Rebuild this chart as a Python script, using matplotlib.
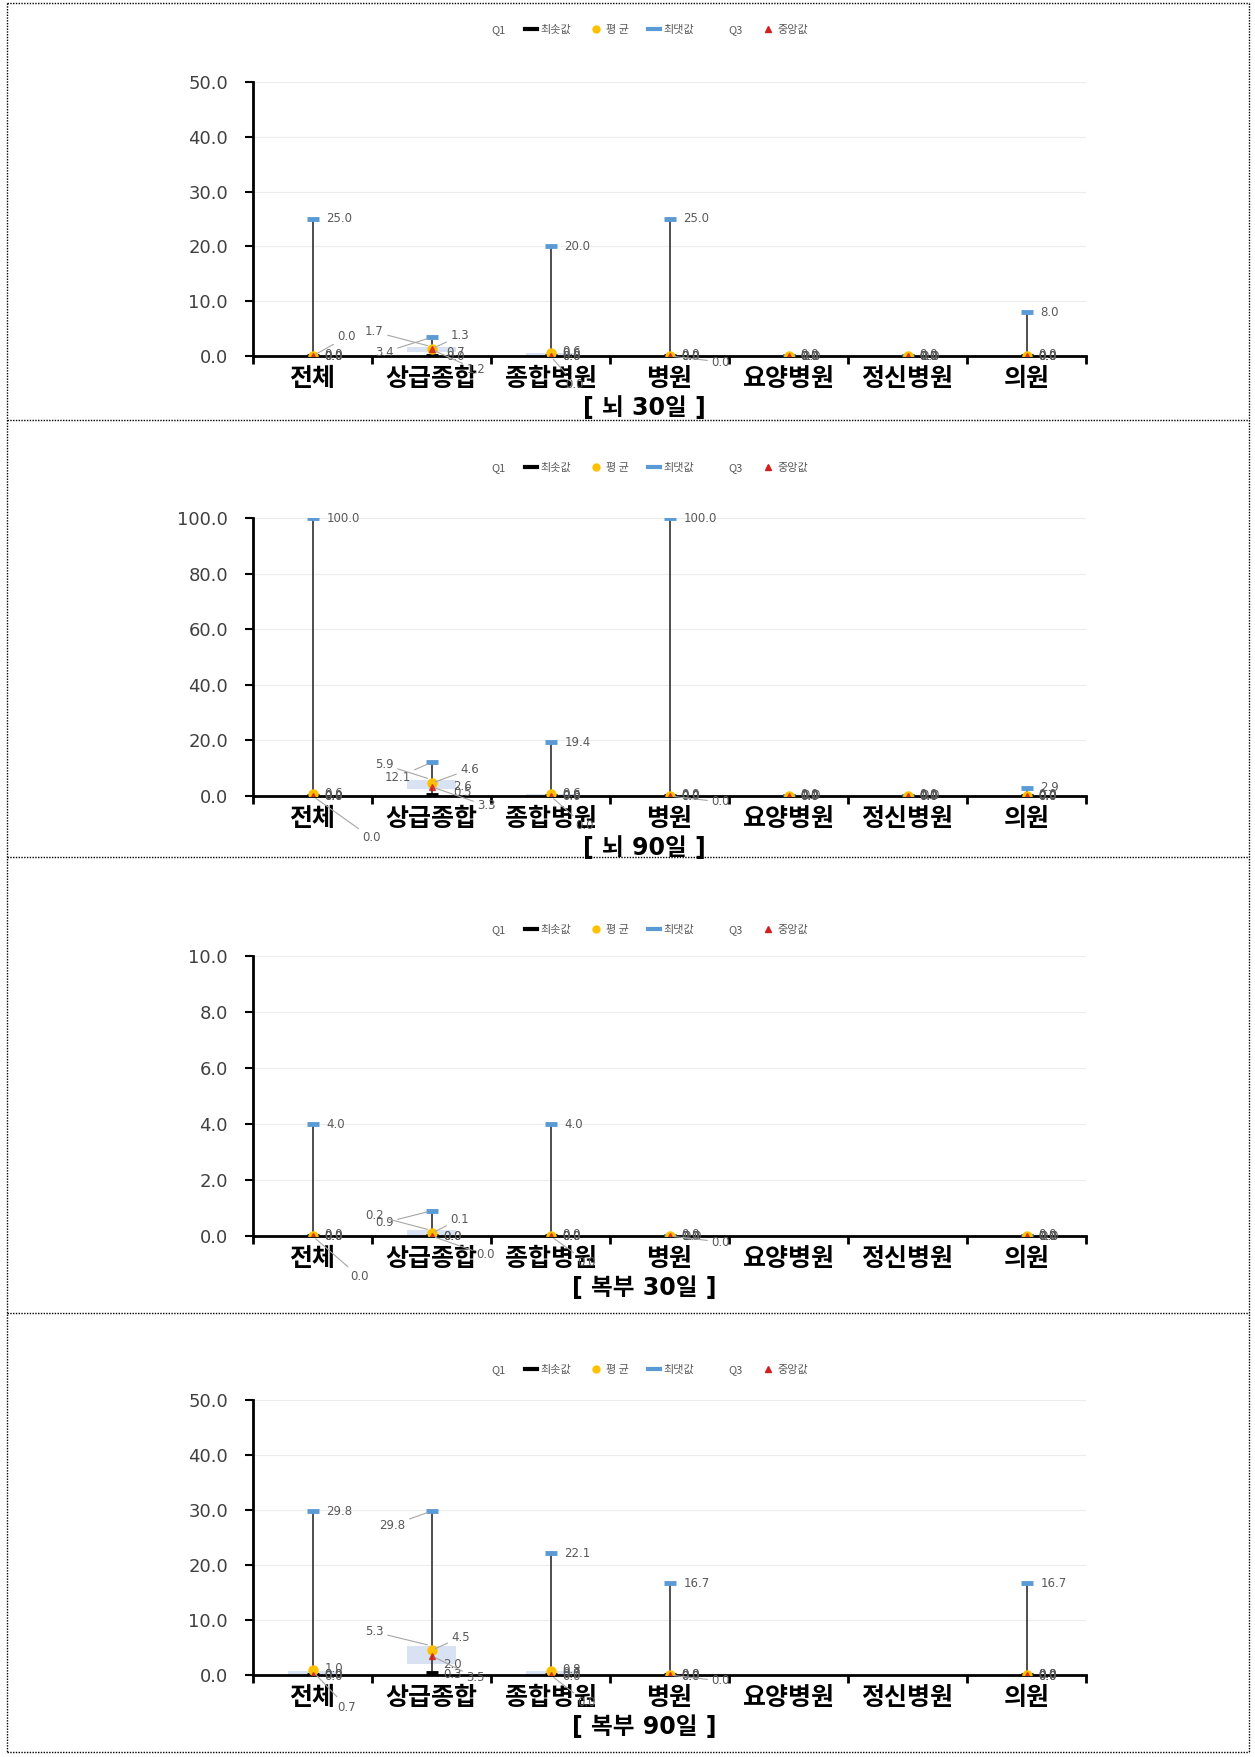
import numpy as np
import matplotlib
matplotlib.use('Agg')
import matplotlib.pyplot as plt
from matplotlib.lines import Line2D

plt.rcParams['font.family'] = ['DejaVu Sans', 'Noto Sans CJK KR']

nan = np.nan
cats = ['전체', '상급종합', '종합병원', '병원', '요양병원', '정신병원', '의원']

# 뇌 30일
b30_q1 = [0.0, 0.7, 0.0, 0.0, 0.0, 0.0, 0.0]
b30_min = [0.0, 0.0, 0.0, 0.0, 0.0, 0.0, 0.0]
b30_mean = [0.0, 1.3, 0.6, 0.0, 0.0, 0.0, 0.0]
b30_max = [25.0, 3.4, 20.0, 25.0, 0.0, 0.0, 8.0]
b30_q3 = [0.0, 1.7, 0.6, 0.0, 0.0, 0.0, 0.0]
b30_med = [0.0, 1.2, 0.0, 0.0, 0.0, 0.0, 0.0]

# 뇌 90일
b90_q1 = [0.0, 2.6, 0.0, 0.0, 0.0, 0.0, 0.0]
b90_min = [0.0, 0.5, 0.0, 0.0, 0.0, 0.0, 0.0]
b90_mean = [0.6, 4.6, 0.6, 0.0, 0.0, 0.0, 0.0]
b90_max = [100.0, 12.1, 19.4, 100.0, 0.0, 0.0, 2.9]
b90_q3 = [0.0, 5.9, 0.6, 0.0, 0.0, 0.0, 0.0]
b90_med = [0.0, 3.3, 0.0, 0.0, 0.0, 0.0, 0.0]

# 복부 30일
a30_q1 = [0.0, 0.0, 0.0, 0.0, nan, nan, 0.0]
a30_min = [0.0, 0.0, 0.0, 0.0, nan, nan, 0.0]
a30_mean = [0.0, 0.1, 0.0, 0.0, nan, nan, 0.0]
a30_max = [4.0, 0.9, 4.0, 0.0, nan, nan, 0.0]
a30_q3 = [0.0, 0.2, 0.0, 0.0, nan, nan, 0.0]
a30_med = [0.0, 0.0, 0.0, 0.0, nan, nan, 0.0]

# 복부 90일
a90_q1 = [0.0, 2.0, 0.0, 0.0, nan, nan, 0.0]
a90_min = [0.0, 0.3, 0.0, 0.0, nan, nan, 0.0]
a90_mean = [1.0, 4.5, 0.8, 0.0, nan, nan, 0.0]
a90_max = [29.8, 29.8, 22.1, 16.7, nan, nan, 16.7]
a90_q3 = [0.7, 5.3, 0.7, 0.0, nan, nan, 0.0]
a90_med = [0.0, 3.5, 0.0, 0.0, nan, nan, 0.0]

titles = ['[ 뇌 30일 ]', '[ 뇌 90일 ]', '[ 복부 30일 ]', '[ 복부 90일 ]']
ymaxs = [50, 100, 10, 50]
ysteps = [10, 20, 2, 10]

# label placement (pixels: dx right, dy down, alignment, leader line)
offs1 = {(0, 'med'): (25, -19, 'left', True), (1, 'mx'): (-38, 15, 'right', True),
         (1, 'q3'): (-48, -15, 'right', True), (1, 'mean'): (19, -13, 'left', True),
         (1, 'q1'): (15, 0, 'left', False), (1, 'mn'): (15, 1, 'left', False),
         (1, 'med'): (35, 20, 'left', True), (2, 'med'): (15, 28, 'left', True),
         (3, 'med'): (42, 6, 'left', True)}
offs2 = {(0, 'med'): (50, 42, 'left', True), (1, 'mx'): (-21, 15, 'right', True),
         (1, 'q3'): (-38, -15, 'right', True), (1, 'mean'): (29, -14, 'left', True),
         (1, 'q1'): (22, -2, 'left', False), (1, 'mn'): (22, -2, 'left', False),
         (1, 'med'): (46, 19, 'left', True), (2, 'med'): (25, 30, 'left', True),
         (3, 'med'): (42, 6, 'left', True)}
offs3 = {(0, 'med'): (38, 41, 'left', True), (1, 'mx'): (-38, 12, 'right', True),
         (1, 'q3'): (-48, -15, 'right', True), (1, 'mean'): (19, -14, 'left', True),
         (1, 'med'): (45, 19, 'left', True), (2, 'med'): (27, 26, 'left', True),
         (3, 'med'): (42, 6, 'left', True)}
offs4 = {(0, 'q3'): (25, 36, 'left', True), (1, 'mx'): (-26, 14, 'right', True),
         (1, 'q3'): (-48, -14, 'right', True), (1, 'mean'): (20, -13, 'left', True),
         (1, 'med'): (35, 22, 'left', True), (2, 'med'): (27, 28, 'left', True),
         (3, 'med'): (42, 6, 'left', True)}

panels = [
    (b30_q1, b30_min, b30_mean, b30_max, b30_q3, b30_med, offs1),
    (b90_q1, b90_min, b90_mean, b90_max, b90_q3, b90_med, offs2),
    (a30_q1, a30_min, a30_mean, a30_max, a30_q3, a30_med, offs3),
    (a90_q1, a90_min, a90_mean, a90_max, a90_q3, a90_med, offs4),
]

W, H = 1255, 1757
axis_bottom = [356, 796, 1236, 1675]
axis_top = [82, 518, 956, 1400]
legend_y = [30, 468, 930, 1370]
left_px, right_px = 253, 1086

fig = plt.figure(figsize=(W / 100, H / 100), dpi=100)

kr = ['Noto Sans CJK KR', 'DejaVu Sans']
lab_col = '#595959'
blue = '#5b9bd5'
yellow = '#ffc000'
red = '#d02020'

handles = [Line2D([], [], linestyle='none'),
           Line2D([], [], color='black', lw=3),
           Line2D([], [], linestyle='none', marker='o', color=yellow, ms=5),
           Line2D([], [], color=blue, lw=3),
           Line2D([], [], linestyle='none'),
           Line2D([], [], linestyle='none', marker='^', color=red, ms=5)]
hlabels = ['Q1', '최솟값', '평 균', '최댓값', 'Q3', '중앙값']

base_dy = {'q1': 0, 'mn': 1, 'mean': -1, 'mx': 0, 'q3': 1, 'med': 0}

for p, (q1, mn, mean, mx, q3, med, offs) in enumerate(panels):
    b = 1 - axis_bottom[p] / H
    h = (axis_bottom[p] - axis_top[p]) / H
    ax = fig.add_axes([left_px / W, b, (right_px - left_px) / W, h])
    x = np.arange(len(cats))
    q1a, mna, meana, mxa, q3a, meda = (np.array(v, dtype=float) for v in (q1, mn, mean, mx, q3, med))

    ax.bar(x, q3a - q1a, bottom=q1a, width=0.42, color='#d9e2f3', zorder=2)
    ax.vlines(x, mna, mxa, color='#404040', lw=1.3, zorder=3)
    ax.plot(x, mna, linestyle='none', marker='_', ms=9, mew=3.5, color='black', zorder=4)
    ax.plot(x, mxa, linestyle='none', marker='_', ms=9, mew=3.5, color=blue, zorder=4)
    ax.plot(x, meana, linestyle='none', marker='o', ms=6.5, color=yellow, zorder=5)
    ax.plot(x, meda, linestyle='none', marker='^', ms=5, color=red, alpha=0.8, zorder=6)

    series = [('q1', q1a), ('mn', mna), ('mean', meana), ('mx', mxa), ('q3', q3a), ('med', meda)]
    for key, arr in series:
        for i, v in enumerate(arr):
            if np.isnan(v):
                continue
            dx, dy, ha, lead = offs.get((i, key), (14 if key == 'mx' else 12, base_dy[key], 'left', False))
            kw = {}
            if lead:
                kw['arrowprops'] = dict(arrowstyle='-', color='#a6a6a6', lw=0.8, shrinkA=1, shrinkB=3)
            ax.annotate(f'{v:.1f}', xy=(i, v), xytext=(dx, -dy), textcoords='offset pixels',
                        ha=ha, va='center', fontsize=8.5, color=lab_col, zorder=7, **kw)

    ax.set_xlim(-0.5, len(cats) - 0.5)
    ax.set_ylim(0, ymaxs[p])
    yt = np.arange(0, ymaxs[p] + ysteps[p] / 2, ysteps[p])
    ax.set_yticks(yt)
    ax.set_yticklabels([f'{t:.1f}' for t in yt], fontsize=13, color='#404040')
    ax.tick_params(axis='y', length=6, width=1.5, pad=12, direction='out')
    ax.set_xticks(x)
    ax.set_xticklabels(cats, fontsize=18, fontweight='bold', family=kr)
    ax.set_xticks(np.arange(-0.5, len(cats)), minor=True)
    ax.tick_params(axis='x', which='major', length=0, pad=8)
    ax.tick_params(axis='x', which='minor', length=6, width=2, direction='out')
    ax.grid(axis='y', color='#ececec', lw=0.8)
    ax.set_axisbelow(True)
    for s in ('top', 'right'):
        ax.spines[s].set_visible(False)
    for s in ('left', 'bottom'):
        ax.spines[s].set_linewidth(2)
        ax.spines[s].set_zorder(3.5)

    ax.legend(handles, hlabels, loc='center', bbox_to_anchor=(642 / W, 1 - legend_y[p] / H),
              bbox_transform=fig.transFigure, ncol=6, frameon=False,
              prop={'family': kr, 'size': 8}, labelcolor=lab_col,
              handlelength=1.1, handletextpad=0.3, columnspacing=1.7)

    fig.text(644 / W, 1 - (axis_bottom[p] + 52) / H, titles[p], ha='center', va='center',
             fontsize=17, fontweight='bold', family=['DejaVu Sans', 'Noto Sans CJK KR'])

# dotted frame and panel separators
frame_x = [7 / W, 1249 / W]
for yy in [3, 420, 857, 1313, 1752]:
    fig.add_artist(Line2D(frame_x, [1 - yy / H] * 2, color='black', lw=1, linestyle=(0, (1, 1))))
for xx in frame_x:
    fig.add_artist(Line2D([xx, xx], [1 - 3 / H, 1 - 1752 / H], color='black', lw=1, linestyle=(0, (1, 1))))

fig.savefig('out.png', dpi=100)
